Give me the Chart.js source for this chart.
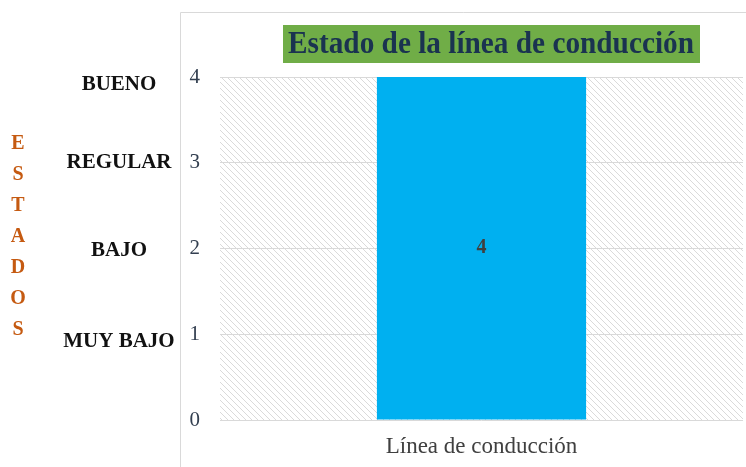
<!DOCTYPE html>
<html>
<head>
<meta charset="utf-8">
<script src="https://cdn.jsdelivr.net/npm/chart.js@4"></script>
<style>
  html, body { margin: 0; padding: 0; background: #fff; }
  #wrap { width: 746px; height: 467px; position: relative; }
</style>
</head>
<body>
<div id="wrap"><canvas id="chart" width="746" height="467"></canvas></div>
<script>
  // data
  const categories = ["Línea de conducción"];
  const values = [4];
  const yTicks = [0, 1, 2, 3, 4];
  const stateNames = ["", "MUY BAJO", "BAJO", "REGULAR", "BUENO"];
  const titleText = "Estado de la línea de conducción";
  const sideTitle = "ESTADOS";

  //diagonal hatch for the plot background
  function hatch() {
    const c = document.createElement("canvas");
    c.width = 6; c.height = 6;
    const g = c.getContext("2d");
    g.fillStyle = "#fff";
    g.fillRect(0, 0, 6, 6);
    g.strokeStyle = "#dadada";
    g.lineWidth = 1;
    g.beginPath();
    g.moveTo(-1, -1); g.lineTo(7, 7);
    g.moveTo(-4, 2); g.lineTo(1, 7);
    g.moveTo(2, -4); g.lineTo(7, 1);
    g.stroke();
    return g.createPattern(c, "repeat");
  }

  const decor = {
    id: "decor",
    beforeDraw(chart) {
      const { ctx, chartArea: a } = chart;
      ctx.save();
      //frame
      ctx.strokeStyle = "#d9d9d9";
      ctx.lineWidth = 1;
      ctx.beginPath();
      ctx.moveTo(180.5, 467); ctx.lineTo(180.5, 12.5); ctx.lineTo(746, 12.5);
      ctx.stroke();
      ctx.fillStyle = hatch();
      ctx.fillRect(a.left, a.top, a.right - a.left, a.bottom - a.top);
      ctx.restore();
    },
    afterDraw(chart) {
      const { ctx } = chart;
      const y = chart.scales.y;
      ctx.save();
      //title box, text squeezed a little
      ctx.fillStyle = "#70ad47";
      ctx.fillRect(283, 25, 417, 38);
      ctx.font = "bold 32px 'Liberation Serif'";
      ctx.fillStyle = "#1a3350";
      ctx.textAlign = "center";
      ctx.textBaseline = "middle";
      ctx.save();
      ctx.translate(491, 45);
      ctx.scale(0.915, 1);
      ctx.fillText(titleText, 0, 0);
      ctx.restore();

      //state names next to the ticks
      const nudge = [0, 7, 2, 0, 8];
      ctx.font = "bold 21px 'Liberation Serif'";
      ctx.fillStyle = "#111";
      stateNames.forEach((s, i) => {
        if (!s) return;
        ctx.fillText(s, 119, y.getPixelForValue(yTicks[i]) + nudge[i]);
      });

      //vertical side title
      ctx.font = "bold 20px 'Liberation Serif'";
      ctx.fillStyle = "#c55a11";
      sideTitle.split("").forEach((ch, i) => ctx.fillText(ch, 18, 144 + i * 31));
      ctx.restore();
    }
  };

  const valueLabel = {
    id: "valueLabel",
    afterDatasetsDraw(chart) {
      const { ctx } = chart;
      const meta = chart.getDatasetMeta(0);
      ctx.save();
      ctx.font = "bold 20px 'Liberation Serif'";
      ctx.fillStyle = "#404040";
      ctx.textAlign = "center";
      ctx.textBaseline = "middle";
      meta.data.forEach((bar, i) => {
        ctx.fillText(values[i], bar.x, (bar.y + bar.base) / 2);
      });
      ctx.restore();
    }
  };

  new Chart(document.getElementById("chart"), {
    type: "bar",
    data: {
      labels: categories,
      datasets: [{
        data: values,
        backgroundColor: "#00b0f0",
        borderWidth: 0,
        categoryPercentage: 0.4,
        barPercentage: 1
      }]
    },
    options: {
      responsive: false,
      animation: false,
      layout: { padding: { left: 180, top: 77, right: 3, bottom: 0 } },
      plugins: { legend: { display: false }, tooltip: { enabled: false } },
      scales: {
        x: {
          grid: { display: false, drawTicks: false },
          border: { display: false },
          ticks: { color: "#404040", font: { family: "Liberation Serif", size: 23 }, padding: 13 },
          afterFit(s) { s.height = 47; }
        },
        y: {
          min: 0, max: 4,
          grid: { color: "#d9d9d9", drawTicks: false },
          border: { display: false },
          ticks: {
            stepSize: 1,
            color: "#333f50",
            font: { family: "Liberation Serif", size: 21 },
            padding: 20
          },
          afterFit(s) { s.width = 40; }
        }
      }
    },
    plugins: [decor, valueLabel]
  });
</script>
</body>
</html>
